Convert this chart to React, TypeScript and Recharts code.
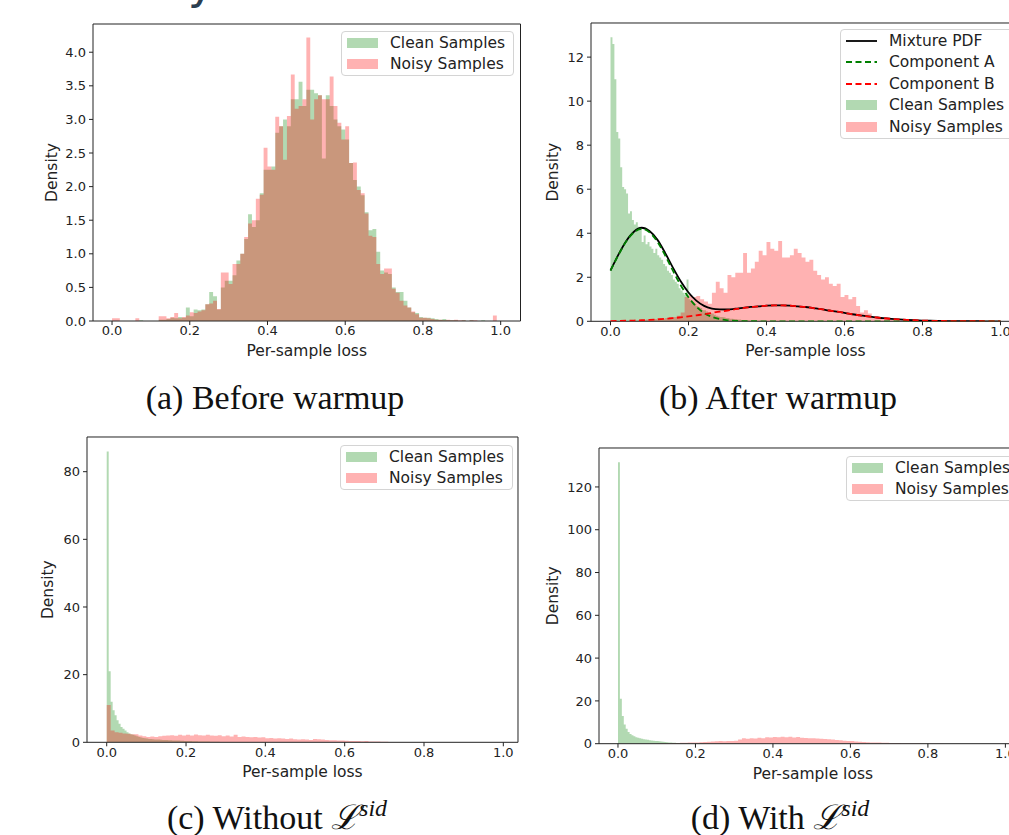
import React from "react"
import { ComposedChart, Area, Line, XAxis, YAxis, ReferenceArea, Legend } from "recharts"

const GREEN = "#008000"
const RED = "#ff0000"
const FONT = '"DejaVu Sans", Verdana, sans-serif'
const SERIF = '"Liberation Serif", "Times New Roman", serif'

const X_TICKS = [0, 0.2, 0.4, 0.6, 0.8, 1.0]

// (a) before warmup — bins of 0.01 starting at 0.0
const beforeClean = [
  0, 0, 0, 0, 0, 0, 0, 0.01, 0, 0,
  0, 0, 0.02, 0.02, 0.03, 0.05, 0.04, 0.06, 0.05, 0.2,
  0.07, 0.17, 0.16, 0.17, 0.25, 0.43, 0.37, 0.17, 0.5, 0.6,
  0.6, 0.68, 0.9, 1.0, 1.22, 1.59, 1.4, 1.5, 1.9, 2.25,
  2.25, 2.3, 2.8, 2.9, 3.0, 2.9, 3.3, 3.3, 3.56, 3.2,
  3.44, 3.44, 3.39, 3.36, 2.42, 3.36, 3.2, 3.0, 2.9, 2.85,
  2.7, 2.35, 2.1, 2.0, 1.87, 1.62, 1.35, 1.37, 1.03, 0.75,
  0.72, 0.7, 0.5, 0.43, 0.43, 0.3, 0.2, 0.13, 0.12, 0.06,
  0.05, 0.05, 0.04, 0.03, 0.02, 0.03, 0.01, 0.01, 0.01, 0,
  0.01, 0, 0.01, 0, 0, 0.01, 0, 0, 0, 0,
]
const beforeNoisy = [
  0.04, 0.04, 0, 0, 0, 0, 0.04, 0, 0, 0,
  0, 0, 0.07, 0.07, 0.04, 0.06, 0.12, 0.04, 0.06, 0.08,
  0.13, 0.12, 0.14, 0.16, 0.25, 0.26, 0.3, 0.18, 0.72, 0.72,
  0.55, 0.85, 0.85, 1.0, 1.25, 1.45, 1.5, 1.82, 1.88, 2.58,
  2.3, 2.25, 3.04, 2.9, 2.4, 3.05, 3.67, 3.16, 3.2, 3.3,
  4.22, 3.0, 3.3, 3.36, 3.3, 3.3, 3.64, 3.2, 2.95, 2.7,
  2.9, 2.35, 2.36, 1.95, 1.9, 1.6, 1.27, 1.25, 0.85, 0.7,
  0.78, 0.78, 0.48, 0.42, 0.3, 0.23, 0.2, 0.14, 0.1, 0.05,
  0.05, 0.04, 0.03, 0.02, 0.02, 0.01, 0.02, 0.01, 0.02, 0.01,
  0.01, 0, 0.01, 0.01, 0, 0, 0, 0, 0.08, 0,
]

// (b) after warmup — clean bins of 0.005, noisy bins of 0.01
const afterClean = [
  12.9, 12.6, 11.0, 8.6, 8.3, 7.0, 6.1, 6.0, 5.8, 4.9,
  5.0, 4.6, 4.4, 4.5, 4.3, 4.2, 3.6, 3.9, 3.5, 3.6,
  3.4, 3.3, 3.1, 3.3, 3.0, 2.9, 2.8, 2.6, 2.5, 2.3,
  2.2, 2.1, 1.9, 1.8, 1.7, 1.5, 1.4, 1.3, 1.2, 1.9,
  1.0, 0.9, 0.85, 0.8, 0.7, 0.65, 0.6, 0.5, 0.5, 0.45,
  0.4, 0.35, 0.35, 0.3, 0.25, 0.22, 0.2, 0.2, 0.18, 0.15,
  0.15, 0.12, 0.12, 0.1, 0.1, 0.08, 0.08, 0.06, 0.06, 0.05,
  0.05, 0.04, 0.03, 0.03, 0.02, 0.02, 0.02, 0.01, 0.01, 0.01,
]
const afterNoisy = [
  0, 0, 0, 0, 0, 0.02, 0.03, 0.05, 0.05, 0.08,
  0.08, 0.1, 0.15, 0.12, 0.15, 0.2, 0.2, 0.25, 0.4, 1.1,
  1.2, 1.1, 1.15, 1.0, 0.9, 0.8, 1.3, 1.8, 1.5, 1.3,
  2.1, 2.0, 2.2, 2.2, 3.1, 2.2, 2.4, 2.7, 3.2, 3.0,
  3.6, 3.3, 3.2, 3.65, 2.9, 2.9, 3.0, 3.3, 3.1, 2.9,
  2.7, 2.8, 2.3, 2.1, 1.9, 2.0, 1.7, 1.6, 1.7, 1.1,
  1.2, 1.0, 1.1, 0.7, 0.4, 0.5, 0.35, 0.2, 0.2, 0.15,
  0.15, 0.15, 0.08, 0.05, 0.04, 0.04, 0.03, 0.04, 0.03, 0.05,
  0.03, 0.02, 0.02, 0.03, 0.02, 0.01, 0.02, 0.02, 0.01, 0.01,
  0.01, 0.01, 0, 0.01, 0, 0, 0.01, 0, 0, 0,
]

// (b) fitted curves, read every 0.02 from 0.0 to 1.0
const mixturePdf = [
  2.31, 3.02, 3.64, 4.07, 4.25, 4.1, 3.71, 3.11, 2.44, 1.82,
  1.31, 0.94, 0.7, 0.58, 0.54, 0.535, 0.57, 0.607, 0.653, 0.68,
  0.71, 0.72, 0.72, 0.71, 0.68, 0.65, 0.6, 0.55, 0.49, 0.44,
  0.38, 0.32, 0.27, 0.22, 0.18, 0.142, 0.111, 0.085, 0.064, 0.047,
  0.034, 0.024, 0.017, 0.012, 0.008, 0.005, 0.003, 0.002, 0.001, 0.001,
  0,
]
const componentA = [
  2.3, 3.0, 3.62, 4.04, 4.2, 4.04, 3.62, 3.0, 2.3, 1.64,
  1.09, 0.67, 0.38, 0.2, 0.1, 0.045, 0.019, 0.007, 0.003, 0.001,
  0, 0, 0, 0, 0, 0, 0, 0, 0, 0,
  0, 0, 0, 0, 0, 0, 0, 0, 0, 0,
  0, 0, 0, 0, 0, 0, 0, 0, 0, 0,
  0,
]
const componentB = [
  0.012, 0.017, 0.024, 0.034, 0.047, 0.064, 0.085, 0.111, 0.142, 0.18,
  0.22, 0.27, 0.32, 0.38, 0.44, 0.49, 0.55, 0.6, 0.65, 0.68,
  0.71, 0.72, 0.72, 0.71, 0.68, 0.65, 0.6, 0.55, 0.49, 0.44,
  0.38, 0.32, 0.27, 0.22, 0.18, 0.142, 0.111, 0.085, 0.064, 0.047,
  0.034, 0.024, 0.017, 0.012, 0.008, 0.005, 0.003, 0.002, 0.001, 0.001,
  0,
]

// (c) without L^sid — clean bins of 0.005, noisy bins of 0.01
const withoutClean = [
  86, 21, 12, 9.5, 8, 6.5, 5.5, 4.5, 4, 3.5,
  3, 2.6, 2.4, 2.2, 2, 1.8, 1.6, 1.4, 1.3, 1.2,
  1.1, 1.0, 0.95, 0.9, 0.85, 0.8, 0.8, 0.75, 0.7, 0.7,
  0.65, 0.6, 0.6, 0.55, 0.55, 0.5, 0.5, 0.45, 0.45, 0.4,
  0.4, 0.35, 0.35, 0.3, 0.3, 0.3, 0.25, 0.25, 0.25, 0.2,
  0.2, 0.2, 0.18, 0.18, 0.15, 0.15, 0.15, 0.12, 0.12, 0.1,
  0.1, 0.1, 0.1, 0.08, 0.08, 0.08, 0.08, 0.07, 0.07, 0.06,
  0.06, 0.06, 0.05, 0.05, 0.05, 0.05, 0.04, 0.04, 0.04, 0.04,
]
const withoutNoisy = [
  11, 3.5, 3.0, 2.8, 2.6, 2.5, 2.4, 2.4, 2.0, 1.8,
  1.6, 1.7, 1.6, 1.8, 1.9, 2.0, 2.1, 1.9, 2.2, 2.0,
  2.2, 2.0, 2.3, 2.1, 2.0, 2.2, 2.0, 1.9, 2.1, 1.8,
  2.0, 1.7, 2.2, 1.6, 1.7, 1.6, 1.5, 1.6, 1.4, 1.5,
  1.2, 1.3, 1.1, 1.2, 1.1, 1.0, 1.1, 0.9, 0.8, 0.9,
  0.8, 0.7, 1.0, 0.9, 0.8, 0.7, 0.6, 0.6, 0.5, 0.5,
  0.45, 0.4, 0.4, 0.35, 0.3, 0.4, 0.25, 0.2, 0.2, 0.15,
  0.15, 0.1, 0.1, 0.1, 0.1, 0.1, 0.1, 0.1, 0.1, 0.1,
  0.05, 0.05, 0.05, 0.05, 0.05, 0.05, 0.05, 0.05, 0.05, 0.05,
  0.05, 0.05, 0.04, 0.04, 0.03, 0.03, 0.03,
]

// (d) with L^sid — clean bins of 0.005 from 0, noisy bins of 0.01 from 0.10
const withClean = [
  131.5, 21, 13, 9, 7, 5.5, 4.5, 4, 3.5, 3,
  2.8, 2.5, 2.3, 2.1, 1.9, 1.8, 1.6, 1.5, 1.4, 1.3,
  1.2, 1.1, 1.0, 0.9, 0.8, 0.7, 0.6, 0.5, 0.45, 0.4,
  0.35, 0.3, 0.25, 0.2, 0.2, 0.15, 0.12, 0.1, 0.1, 0.08,
  0.05, 0.05, 0.04, 0.04, 0.03, 0.03, 0.02, 0.02, 0.02, 0.01,
]
const withNoisy = [
  0.1, 0.15, 0.2, 0.25, 0.3, 0.35, 0.4, 0.45, 0.5, 0.55,
  0.6, 0.7, 0.8, 0.9, 1.0, 1.1, 1.2, 1.1, 1.3, 1.2,
  1.4, 1.9, 2.5, 2.3, 2.6, 2.4, 2.8, 2.6, 3.0, 2.9,
  3.1, 3.0, 3.3, 3.0, 3.2, 2.9, 3.1, 2.8, 2.7, 2.6,
  2.5, 2.4, 2.3, 2.2, 2.1, 1.9, 1.7, 1.6, 1.4, 1.3,
  1.2, 1.0, 0.9, 0.8, 0.7, 0.6, 0.5, 0.5, 0.4, 0.4,
  0.35, 0.3, 0.3, 0.25, 0.2, 0.2, 0.15, 0.15, 0.1, 0.1,
  0.08, 0.06, 0.05, 0.04, 0.03, 0.02,
]

type Hist = { key: string; start: number; width: number; values: number[]; color: string }
type Curve = { key: string; step: number; values: number[]; color: string; dash?: string }
type LegendItem = { label: string; color: string; kind: "patch" | "line"; dash?: string }

// merge histograms (as step outlines) and curves onto one x table, in 0.001 units
function buildTable(hists: Hist[], curves: Curve[]) {
  const keys = new Set<number>()
  hists.forEach((h) => {
    const s = Math.round(h.start * 1000)
    const w = Math.round(h.width * 1000)
    for (let i = 0; i <= h.values.length; i++) keys.add(s + i * w)
  })
  curves.forEach((c) => {
    const w = Math.round(c.step * 1000)
    c.values.forEach((_, i) => keys.add(i * w))
  })
  return [...keys]
    .sort((a, b) => a - b)
    .map((k) => {
      const row: Record<string, number | null> = { x: k / 1000 }
      hists.forEach((h) => {
        const s = Math.round(h.start * 1000)
        const w = Math.round(h.width * 1000)
        const end = s + h.values.length * w
        if (k >= s && k < end) row[h.key] = h.values[Math.floor((k - s) / w)]
        else if (k === end) row[h.key] = 0
        else row[h.key] = null
      })
      curves.forEach((c) => {
        const w = Math.round(c.step * 1000)
        row[c.key] = k % w === 0 && k / w < c.values.length ? c.values[k / w] : null
      })
      return row
    })
}

function AxisTitle(props: any) {
  const { viewBox, text, axis, dist } = props
  if (!viewBox) return null
  if (axis === "y") {
    const cx = viewBox.x + viewBox.width - dist
    const cy = viewBox.y + viewBox.height / 2
    return (
      <text x={cx} y={cy} transform={`rotate(-90 ${cx} ${cy})`} textAnchor="middle"
        dominantBaseline="central" fontSize={15.5} fontFamily={FONT} fill="#222">
        {text}
      </text>
    )
  }
  return (
    <text x={viewBox.x + viewBox.width / 2} y={viewBox.y + dist} textAnchor="middle"
      fontSize={15.5} fontFamily={FONT} fill="#222">
      {text}
    </text>
  )
}

function LegendBox({ items }: { items: LegendItem[] }) {
  return (
    <div style={{
      border: "1px solid #d4d4d4", borderRadius: 4, background: "rgba(255,255,255,0.85)",
      padding: "0 8px 0 5px", fontFamily: FONT, fontSize: 15.5, color: "#222", whiteSpace: "nowrap",
    }}>
      {items.map((it) => (
        <div key={it.label} style={{ display: "flex", alignItems: "center", height: 21.5 }}>
          <svg width={31} height={10} style={{ marginRight: 12, flex: "none" }}>
            {it.kind === "patch" ? (
              <rect x={0} y={0} width={31} height={10} fill={it.color} fillOpacity={0.3} />
            ) : (
              <line x1={0} y1={5} x2={31} y2={5} stroke={it.color} strokeWidth={1.8} strokeDasharray={it.dash} />
            )}
          </svg>
          <span>{it.label}</span>
        </div>
      ))}
    </div>
  )
}

type PanelProps = {
  box: [number, number, number, number]
  xDomain: [number, number]
  yMax: number
  yTicks: number[]
  yDecimals: number
  yLabelDist: number
  hists: Hist[]
  curves?: Curve[]
  legendItems: LegendItem[]
  legendAt: [number, number]
}

function Panel({ box, xDomain, yMax, yTicks, yDecimals, yLabelDist, hists, curves = [], legendItems, legendAt }: PanelProps) {
  const [x0, y0, x1, y1] = box
  const left = x0 - 70
  const top = y0 - 10
  const data = buildTable(hists, curves)
  const tickStyle = { fontSize: 13, fill: "#222", fontFamily: FONT }
  return (
    <div style={{ position: "absolute", left, top }}>
      <ComposedChart width={x1 - x0 + 80} height={y1 - y0 + 70} data={data}
        margin={{ top: 10, right: 10, bottom: 0, left: 10 }}>
        <XAxis type="number" dataKey="x" domain={xDomain} ticks={X_TICKS} interval={0} allowDataOverflow
          height={60} tickSize={4} tickMargin={1} axisLine={false} tick={tickStyle}
          tickLine={{ stroke: "#222" }} tickFormatter={(v: number) => v.toFixed(1)}
          label={<AxisTitle axis="x" text="Per-sample loss" dist={35} />} />
        <YAxis type="number" domain={[0, yMax]} ticks={yTicks} interval={0} allowDataOverflow
          width={60} tickSize={4} tickMargin={3} axisLine={false} tick={tickStyle}
          tickLine={{ stroke: "#222" }} tickFormatter={(v: number) => v.toFixed(yDecimals)}
          label={<AxisTitle axis="y" text="Density" dist={yLabelDist} />} />
        {hists.map((h) => (
          <Area key={h.key} dataKey={h.key} type="stepAfter" stroke="none" fill={h.color}
            fillOpacity={0.3} dot={false} activeDot={false} isAnimationActive={false} />
        ))}
        {curves.map((c) => (
          <Line key={c.key} dataKey={c.key} type="monotone" stroke={c.color} strokeWidth={1.8}
            strokeDasharray={c.dash} connectNulls dot={false} activeDot={false} isAnimationActive={false} />
        ))}
        <ReferenceArea x1={xDomain[0]} x2={xDomain[1]} y1={0} y2={yMax} fill="none"
          stroke="#222" strokeWidth={1} ifOverflow="visible" />
        <Legend layout="horizontal" verticalAlign="middle" align="center"
          wrapperStyle={{ left: legendAt[0] - left, top: legendAt[1] - top, width: "auto" }}
          content={() => <LegendBox items={legendItems} />} />
      </ComposedChart>
    </div>
  )
}

const cleanItem: LegendItem = { label: "Clean Samples", color: GREEN, kind: "patch" }
const noisyItem: LegendItem = { label: "Noisy Samples", color: RED, kind: "patch" }

const captionStyle: React.CSSProperties = {
  position: "absolute", width: 500, textAlign: "center", fontFamily: SERIF,
  fontSize: 34, lineHeight: "34px", color: "#111", whiteSpace: "nowrap",
}

function Caption({ cx, baseline, children }: { cx: number; baseline: number; children: React.ReactNode }) {
  return <div style={{ ...captionStyle, left: cx - 250, top: baseline - 28.5 }}>{children}</div>
}

const Lsid = () => (
  <span>
    <span style={{ fontFamily: '"DejaVu Serif", serif', fontStyle: "italic" }}>ℒ</span>
    <sup style={{ fontStyle: "italic", fontSize: 24, verticalAlign: "top", position: "relative", top: -9 }}>sid</sup>
  </span>
)

export default function App() {
  return (
    <div style={{ position: "fixed", left: 0, top: 0, width: 1009, height: 835, overflow: "hidden", background: "#fff" }}>
      <div style={{ position: "absolute", left: 0, top: 0, width: 1009, height: 16, overflow: "hidden" }}>
        <div style={{ position: "absolute", left: 40, top: -41, fontFamily: FONT, fontSize: 46, lineHeight: "46px", color: "#2c3e50", whiteSpace: "nowrap" }}>
          Density Distributions of Clean and Noise Losses
        </div>
      </div>

      <Panel box={[92.5, 24, 520, 321]} xDomain={[-0.049, 1.051]} yMax={4.42}
        yTicks={[0, 0.5, 1, 1.5, 2, 2.5, 3, 3.5, 4]} yDecimals={1} yLabelDist={41.5}
        hists={[
          { key: "clean", start: 0, width: 0.01, values: beforeClean, color: GREEN },
          { key: "noisy", start: 0, width: 0.01, values: beforeNoisy, color: RED },
        ]}
        legendItems={[cleanItem, noisyItem]} legendAt={[341, 31]} />

      <Panel box={[590.5, 23, 1019.5, 321.3]} xDomain={[-0.05, 1.05]} yMax={13.55}
        yTicks={[0, 2, 4, 6, 8, 10, 12]} yDecimals={0} yLabelDist={38}
        hists={[
          { key: "clean", start: 0, width: 0.005, values: afterClean, color: GREEN },
          { key: "noisy", start: 0, width: 0.01, values: afterNoisy, color: RED },
        ]}
        curves={[
          { key: "mix", step: 0.02, values: mixturePdf, color: "#000" },
          { key: "compA", step: 0.02, values: componentA, color: GREEN, dash: "6 3.5" },
          { key: "compB", step: 0.02, values: componentB, color: RED, dash: "6 3.5" },
        ]}
        legendItems={[
          { label: "Mixture PDF", color: "#000", kind: "line" },
          { label: "Component A", color: GREEN, kind: "line", dash: "6 3.5" },
          { label: "Component B", color: RED, kind: "line", dash: "6 3.5" },
          cleanItem, noisyItem,
        ]}
        legendAt={[840, 29]} />

      <Panel box={[87, 437, 518, 742.3]} xDomain={[-0.0497, 1.037]} yMax={90.25}
        yTicks={[0, 20, 40, 60, 80]} yDecimals={0} yLabelDist={38.5}
        hists={[
          { key: "clean", start: 0, width: 0.005, values: withoutClean, color: GREEN },
          { key: "noisy", start: 0, width: 0.01, values: withoutNoisy, color: RED },
        ]}
        legendItems={[cleanItem, noisyItem]} legendAt={[340, 445]} />

      <Panel box={[599.3, 448.3, 1027, 744]} xDomain={[-0.049, 1.055]} yMax={138.2}
        yTicks={[0, 20, 40, 60, 80, 100, 120]} yDecimals={0} yLabelDist={46}
        hists={[
          { key: "clean", start: 0, width: 0.005, values: withClean, color: GREEN },
          { key: "noisy", start: 0.1, width: 0.01, values: withNoisy, color: RED },
        ]}
        legendItems={[cleanItem, noisyItem]} legendAt={[846, 456]} />

      <Caption cx={275} baseline={409}>(a) Before warmup</Caption>
      <Caption cx={778} baseline={409}>(b) After warmup</Caption>
      <Caption cx={277} baseline={828}>(c) Without <Lsid /></Caption>
      <Caption cx={780} baseline={828}>(d) With <Lsid /></Caption>
    </div>
  )
}
